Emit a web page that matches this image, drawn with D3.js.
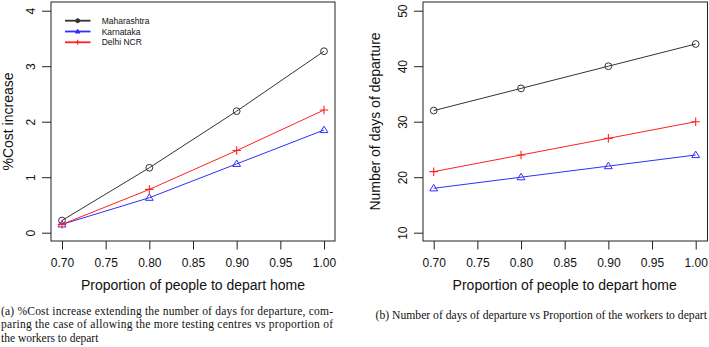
<!DOCTYPE html>
<html>
<head>
<meta charset="utf-8">
<script src="https://cdn.jsdelivr.net/npm/d3@7"></script>
<style>
  body { margin: 0; background: #fff; }
  svg { display: block; }
</style>
</head>
<body>
<svg id="chart" width="709" height="347"></svg>
<script>
// Data
const proportions = [0.70, 0.80, 0.90, 1.00];
const xTicks = [0.70, 0.75, 0.80, 0.85, 0.90, 0.95, 1.00];
const states = ["Maharashtra", "Karnataka", "Delhi NCR"];

// panel (a): % cost increase
const costMaharashtra = [0.22, 1.17, 2.19, 3.27];
const costKarnataka = [0.15, 0.63, 1.24, 1.85];
const costDelhi = [0.15, 0.78, 1.48, 2.21];
const costTicks = [0, 1, 2, 3, 4];

// panel (b): number of days of departure
const daysMaharashtra = [32, 36, 40, 44];
const daysKarnataka = [18, 20, 22, 24];
const daysDelhi = [21, 24, 27, 30];
const daysTicks = [10, 20, 30, 40, 50];

const colors = { "Maharashtra": "#333333", "Karnataka": "#2f2fff", "Delhi NCR": "#ff2020" };
const shapes = { "Maharashtra": "circle", "Karnataka": "triangle", "Delhi NCR": "plus" };

const svg = d3.select("#chart");
const sans = "'Liberation Sans', Arial, Helvetica, sans-serif";
const serif = "'Liberation Serif', 'Times New Roman', serif";

function drawMarker(g, shape, x, y, color, filled, size) {
  if (shape === "circle") {
    g.append("circle").attr("cx", x).attr("cy", y).attr("r", size)
      .attr("fill", filled ? color : "none").attr("stroke", color).attr("stroke-width", 1);
  } else if (shape === "triangle") {
    const h = size * 1.9, w = size * 1.15;
    g.append("path")
      .attr("d", `M${x},${y - h * 0.6}L${x + w},${y + h * 0.4}L${x - w},${y + h * 0.4}Z`)
      .attr("fill", filled ? color : "none").attr("stroke", color).attr("stroke-width", 1);
  } else {
    const s = size * 1.25;
    g.append("path")
      .attr("d", `M${x - s},${y}H${x + s}M${x},${y - s}V${y + s}`)
      .attr("stroke", color).attr("stroke-width", 1.1).attr("fill", "none");
  }
}

function panel(opts) {
  const { left, right, top, bottom, series, yDomain, yTicks, yTitle, xRange, yRange, tickLabelX, titleX } = opts;
  const g = svg.append("g");

  const x = d3.scaleLinear().domain([0.70, 1.00]).range(xRange);
  const y = d3.scaleLinear().domain(yDomain).range(yRange);

  // frame
  g.append("rect").attr("x", left).attr("y", top)
    .attr("width", right - left).attr("height", bottom - top)
    .attr("fill", "none").attr("stroke", "#222").attr("stroke-width", 1);

  // x axis
  const xa = g.append("g").attr("transform", `translate(0,${bottom})`)
    .call(d3.axisBottom(x).tickValues(xTicks).tickFormat(d3.format(".2f")).tickSizeOuter(0).tickSizeInner(8.5).tickPadding(9));
  xa.select(".domain").remove();
  xa.selectAll("line").attr("stroke", "#222");
  xa.selectAll("text").attr("font-family", sans).attr("font-size", 12).attr("fill", "#111");

  // y axis, labels rotated like R's default
  const ya = g.append("g").attr("transform", `translate(${left},0)`)
    .call(d3.axisLeft(y).tickValues(yTicks).tickFormat(d3.format("d")).tickSizeOuter(0).tickSizeInner(9));
  ya.select(".domain").remove();
  ya.selectAll("line").attr("stroke", "#222");
  ya.selectAll("text")
    .attr("font-family", sans).attr("font-size", 12).attr("fill", "#111")
    .attr("text-anchor", "middle").attr("dy", null)
    .attr("x", null).attr("y", null)
    .attr("transform", `translate(${tickLabelX - left},0) rotate(-90)`);

  // axis titles
  g.append("text")
    .attr("x", (xRange[0] + xRange[1]) / 2).attr("y", 290)
    .attr("text-anchor", "middle").attr("font-family", sans).attr("font-size", 14).attr("fill", "#111")
    .text("Proportion of people to depart home");
  g.append("text")
    .attr("transform", `translate(${titleX},${(top + bottom) / 2}) rotate(-90)`)
    .attr("text-anchor", "middle").attr("font-family", sans).attr("font-size", 14).attr("fill", "#111")
    .text(yTitle);

  // lines + markers
  const line = d3.line().x(d => x(d[0])).y(d => y(d[1]));
  series.forEach(s => {
    const pts = proportions.map((p, i) => [p, s.values[i]]);
    g.append("path").datum(pts).attr("d", line)
      .attr("fill", "none").attr("stroke", colors[s.name]).attr("stroke-width", 1);
    pts.forEach(p => drawMarker(g, shapes[s.name], x(p[0]), y(p[1]), colors[s.name], false, 3.4));
  });
  return g;
}

const gA = panel({
  left: 51, right: 335, top: 2, bottom: 241,
  xRange: [62, 324], yRange: [232.7, 10.7], yDomain: [0, 4], yTicks: costTicks,
  tickLabelX: 34.5, titleX: 13.3, yTitle: "%Cost increase",
  series: [
    { name: "Maharashtra", values: costMaharashtra },
    { name: "Karnataka", values: costKarnataka },
    { name: "Delhi NCR", values: costDelhi }
  ]
});

panel({
  left: 423, right: 707.5, top: 2, bottom: 241,
  xRange: [433.7, 695.7], yRange: [232.7, 10.7], yDomain: [10, 50], yTicks: daysTicks,
  tickLabelX: 406.5, titleX: 380, yTitle: "Number of days of departure",
  series: [
    { name: "Maharashtra", values: daysMaharashtra },
    { name: "Karnataka", values: daysKarnataka },
    { name: "Delhi NCR", values: daysDelhi }
  ]
});

// legend (panel a)
const legend = gA.append("g");
states.forEach((name, i) => {
  const ly = 20.7 + i * 10.8;
  legend.append("line").attr("x1", 65).attr("x2", 90.5).attr("y1", ly).attr("y2", ly)
    .attr("stroke", colors[name]).attr("stroke-width", 1.8);
  drawMarker(legend, shapes[name], 77.7, ly, colors[name], true, 2);
  legend.append("text").attr("x", 101.7).attr("y", ly + 3)
    .attr("font-family", sans).attr("font-size", 8.5).attr("fill", "#111").text(name);
});

// captions
const capA = [
  "(a)  %Cost increase extending the number of days for departure, com-",
  "paring the case of allowing the more testing centres vs proportion of",
  "the workers to depart"
];
capA.forEach((t, i) => {
  const tx = svg.append("text").attr("x", 1).attr("y", 315 + i * 13.3)
    .attr("font-family", serif).attr("font-size", 11.5).attr("fill", "#111").text(t);
  if (i < 2) tx.attr("textLength", 332).attr("lengthAdjust", "spacing");
});
svg.append("text").attr("x", 375.5).attr("y", 319)
  .attr("font-family", serif).attr("font-size", 11.5).attr("fill", "#111")
  .attr("textLength", 331.5).attr("lengthAdjust", "spacingAndGlyphs")
  .text("(b)  Number of days of departure vs Proportion of the workers to depart");
</script>
</body>
</html>
